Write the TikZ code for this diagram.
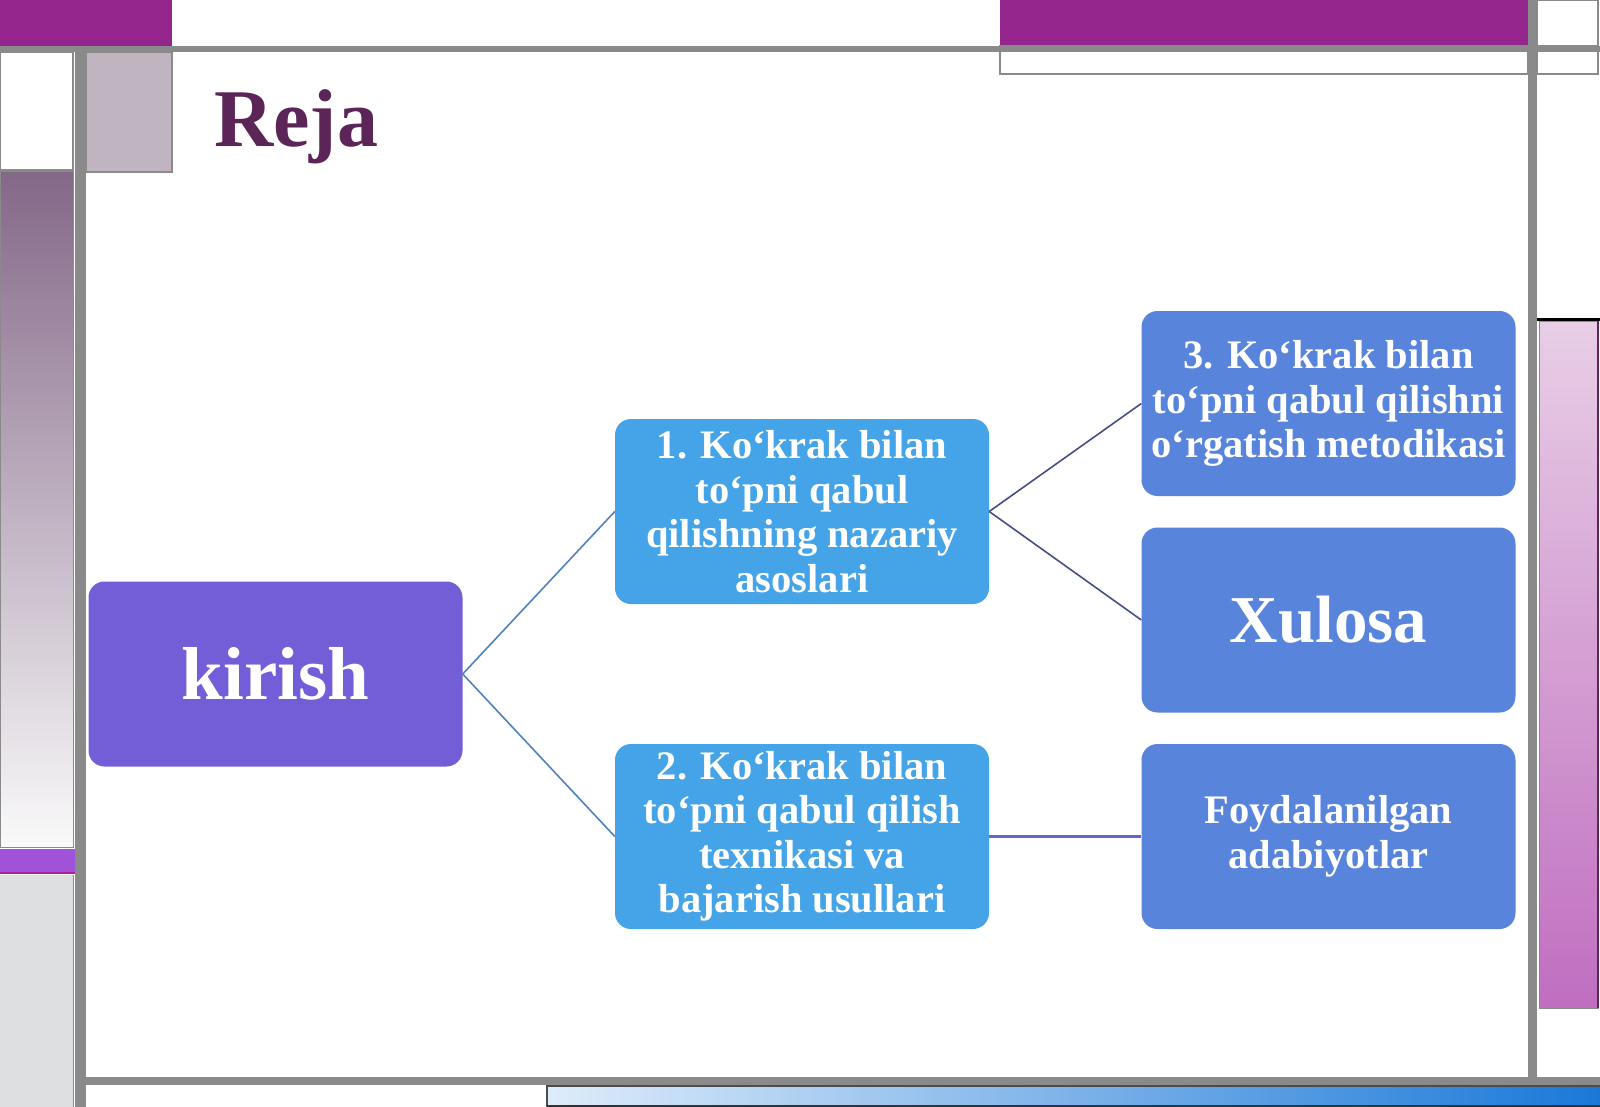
\documentclass[tikz,border=0pt]{standalone}
\usepackage{fontspec}
\setmainfont{Liberation Serif}
\definecolor{graylinec}{RGB}{138,138,138}
\definecolor{toppurple}{RGB}{148,38,142}
\definecolor{mauvebox}{RGB}{192,180,192}
\definecolor{stripTop}{RGB}{132,104,136}
\definecolor{stripBot}{RGB}{250,250,250}
\definecolor{violetstrip}{RGB}{160,82,216}
\definecolor{magline}{RGB}{176,32,154}
\definecolor{lightgraystrip}{RGB}{221,222,224}
\definecolor{pinkTop}{RGB}{232,206,230}
\definecolor{pinkBot}{RGB}{192,110,192}
\definecolor{blueL}{RGB}{222,236,250}
\definecolor{blueR}{RGB}{26,120,216}
\definecolor{kirishc}{RGB}{116,94,216}
\definecolor{skyc}{RGB}{69,163,232}
\definecolor{royalc}{RGB}{88,132,220}
\definecolor{titlec}{RGB}{92,37,88}
\definecolor{conA}{RGB}{80,130,190}
\definecolor{conB}{RGB}{70,78,130}
\definecolor{conC}{RGB}{100,100,214}
\begin{document}
\begin{tikzpicture}[x=1pt,y=-1pt,
  box/.style={rounded corners=16pt, minimum width=374pt, minimum height=185pt,
    inner sep=0pt, align=center, text=white,
    font=\bfseries\fontsize{40.5}{44.5}\selectfont},
  outl/.style={draw=graylinec, line width=1.5pt},
  conn/.style={line width=1.6pt}
]
\useasboundingbox (0,0) rectangle (1600,1107);
\fill[white] (0,0) rectangle (1600,1107);

% ---- left column ----
\fill[toppurple] (0,0) rectangle (172,46);
\draw[outl, fill=white] (0,52) rectangle (73,170);
\draw[outl, fill=mauvebox] (86,52) rectangle (172,172);
\shade[top color=stripTop, bottom color=stripBot] (0,172) rectangle (73,847);
\draw[graylinec, line width=1pt] (0,172) rectangle (73,847);
\fill[violetstrip] (0,849) rectangle (78,872);
\draw[magline, line width=2pt] (0,873) -- (80,873);
\fill[lightgraystrip] (0,875) rectangle (73,1107);
\draw[graylinec, line width=1pt] (73,875) -- (73,1107);

% ---- top right ----
\fill[toppurple] (1000,0) rectangle (1528,46);
\draw[outl] (1000,46) rectangle (1528,74);
\draw[outl] (1537,0) rectangle (1598,46);
\draw[outl] (1537,50) rectangle (1598,74);

% ---- right strip ----
\draw[black, line width=3pt] (1537,319) -- (1600,319);
\shade[top color=pinkTop, bottom color=pinkBot] (1539,321) rectangle (1598,1008);
\draw[graylinec, line width=1pt] (1539,321) rectangle (1598,1008);
\draw[titlec, line width=1.5pt] (1598,321) -- (1598,1008);

% ---- bottom bar ----
\shade[left color=blueL, right color=blueR] (547,1086) rectangle (1600,1107);
\draw[black!70, line width=1.2pt] (547,1107) -- (547,1086) -- (1600,1086);
\draw[black!80, line width=1.5pt] (547,1106) -- (1600,1106);

% ---- gray frame lines ----
\fill[graylinec] (0,46) rectangle (1600,52);
\fill[graylinec] (75,46) rectangle (86,1107);
\fill[graylinec] (1528,0) rectangle (1537,1085);
\fill[graylinec] (86,1077) rectangle (1600,1085);

% ---- title ----
\node[anchor=base west, inner sep=0pt, text=titlec,
      font=\bfseries\fontsize{82}{90}\selectfont] (title) at (214,147) {Reja};

% ---- nodes ----
\node[box, fill=kirishc, font=\bfseries\fontsize{75}{80}\selectfont] (kirish) at (275.5,674) {kirish};
\node[box, fill=skyc] (n1) at (802,511.5) {1. Ko‘krak bilan\\to‘pni qabul\\qilishning nazariy\\asoslari};
\node[box, fill=skyc] (n2) at (802,836.5) {2. Ko‘krak bilan\\to‘pni qabul qilish\\texnikasi va\\bajarish usullari};
\node[box, fill=royalc] (n3) at (1328.5,403.5) {3. Ko‘krak bilan\\to‘pni qabul qilishni\\o‘rgatish metodikasi};
\node[box, fill=royalc, font=\bfseries\fontsize{67}{72}\selectfont] (xul) at (1328.5,620) {Xulosa};
\node[box, fill=royalc] (foyd) at (1328.5,836.5) {Foydalanilgan\\adabiyotlar};

% ---- connectors ----
\draw[conn, conA] (kirish.east) -- (n1.west);
\draw[conn, conA] (kirish.east) -- (n2.west);
\draw[conn, conB] (n1.east) -- (n3.west);
\draw[conn, conB] (n1.east) -- (xul.west);
\draw[conn, conC, line width=2.2pt] (n2.east) -- (foyd.west);
\end{tikzpicture}
\end{document}
